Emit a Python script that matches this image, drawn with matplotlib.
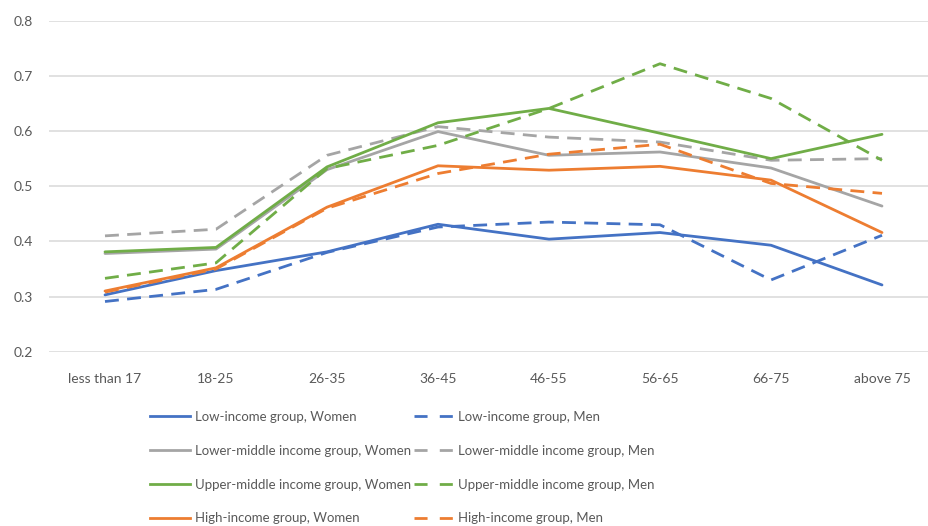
import matplotlib
matplotlib.use("Agg")
import matplotlib.pyplot as plt
from matplotlib.lines import Line2D

plt.rcParams['font.family'] = ['Lato', 'DejaVu Sans']

ages = ["less than 17", "18-25", "26-35", "36-45", "46-55", "56-65", "66-75", "above 75"]

low_women = [0.303, 0.347, 0.381, 0.431, 0.404, 0.416, 0.393, 0.321]
low_men = [0.291, 0.313, 0.380, 0.426, 0.435, 0.430, 0.330, 0.411]
lowmid_women = [0.378, 0.386, 0.530, 0.599, 0.556, 0.562, 0.533, 0.464]
lowmid_men = [0.410, 0.422, 0.556, 0.608, 0.589, 0.580, 0.547, 0.550]
upmid_women = [0.381, 0.389, 0.535, 0.615, 0.641, 0.596, 0.550, 0.594]
upmid_men = [0.333, 0.361, 0.532, 0.574, 0.641, 0.722, 0.659, 0.547]
high_women = [0.310, 0.352, 0.462, 0.537, 0.529, 0.536, 0.511, 0.416]
high_men = [0.308, 0.350, 0.460, 0.523, 0.558, 0.576, 0.505, 0.487]

series = [
  ("Low-income group, Women", low_women, "#4472C4", "-"),
  ("Low-income group, Men", low_men, "#4472C4", "--"),
  ("Lower-middle income group, Women", lowmid_women, "#A5A5A5", "-"),
  ("Lower-middle income group, Men", lowmid_men, "#A5A5A5", "--"),
  ("Upper-middle income group, Women", upmid_women, "#70AD47", "-"),
  ("Upper-middle income group, Men", upmid_men, "#70AD47", "--"),
  ("High-income group, Women", high_women, "#ED7D31", "-"),
  ("High-income group, Men", high_men, "#ED7D31", "--"),
]

W, H = 929, 526
fig = plt.figure(figsize=(W / 100, H / 100), dpi=100)
ax = fig.add_axes([49.5 / W, 1 - 351.7 / H, 888 / W, 331 / H])

x = list(range(len(ages)))
handles = {}
for label, vals, col, ls in series:
  dash = (0, (5, 3)) if ls == "--" else "-"
  ln, = ax.plot(x, vals, color=col, linestyle=dash, linewidth=2.0, label=label,
                solid_capstyle="round")
  handles[label] = ln

ax.set_xlim(-0.5, 7.5)
ax.set_ylim(0.2, 0.8)
ax.set_yticks([0.2, 0.3, 0.4, 0.5, 0.6, 0.7, 0.8])
ax.set_yticklabels(["0.2", "0.3", "0.4", "0.5", "0.6", "0.7", "0.8"])
ax.set_xticks(x)
ax.set_xticklabels(ages)
ax.grid(axis="y", color="#D9D9D9", linewidth=1.1)
ax.set_axisbelow(True)
for s in ax.spines.values():
  s.set_visible(False)
ax.tick_params(length=0, colors="#595959", labelsize=10)
ax.tick_params(axis="y", pad=12)
ax.tick_params(axis="x", pad=15)

# column-first fill: women in col 1, men in col 2
order = [s[0] for s in series[0::2]] + [s[0] for s in series[1::2]]
leg_handles = []
for lab in order:
  h = handles[lab]
  leg_handles.append(Line2D([], [], color=h.get_color(),
                            linestyle=(0, (4.7, 4.4)) if "Men" in lab else "-",
                            linewidth=2.0))
leg = fig.legend(leg_handles, order, ncol=2, frameon=False,
                 loc="upper left", bbox_to_anchor=(150 / W, 1 - 411 / H),
                 borderpad=0, borderaxespad=0, handlelength=3.0,
                 handletextpad=0.4, columnspacing=0.2, labelspacing=1.65,
                 fontsize=9.5)
for t in leg.get_texts():
  t.set_color("#595959")

fig.savefig("out.png", dpi=100)
